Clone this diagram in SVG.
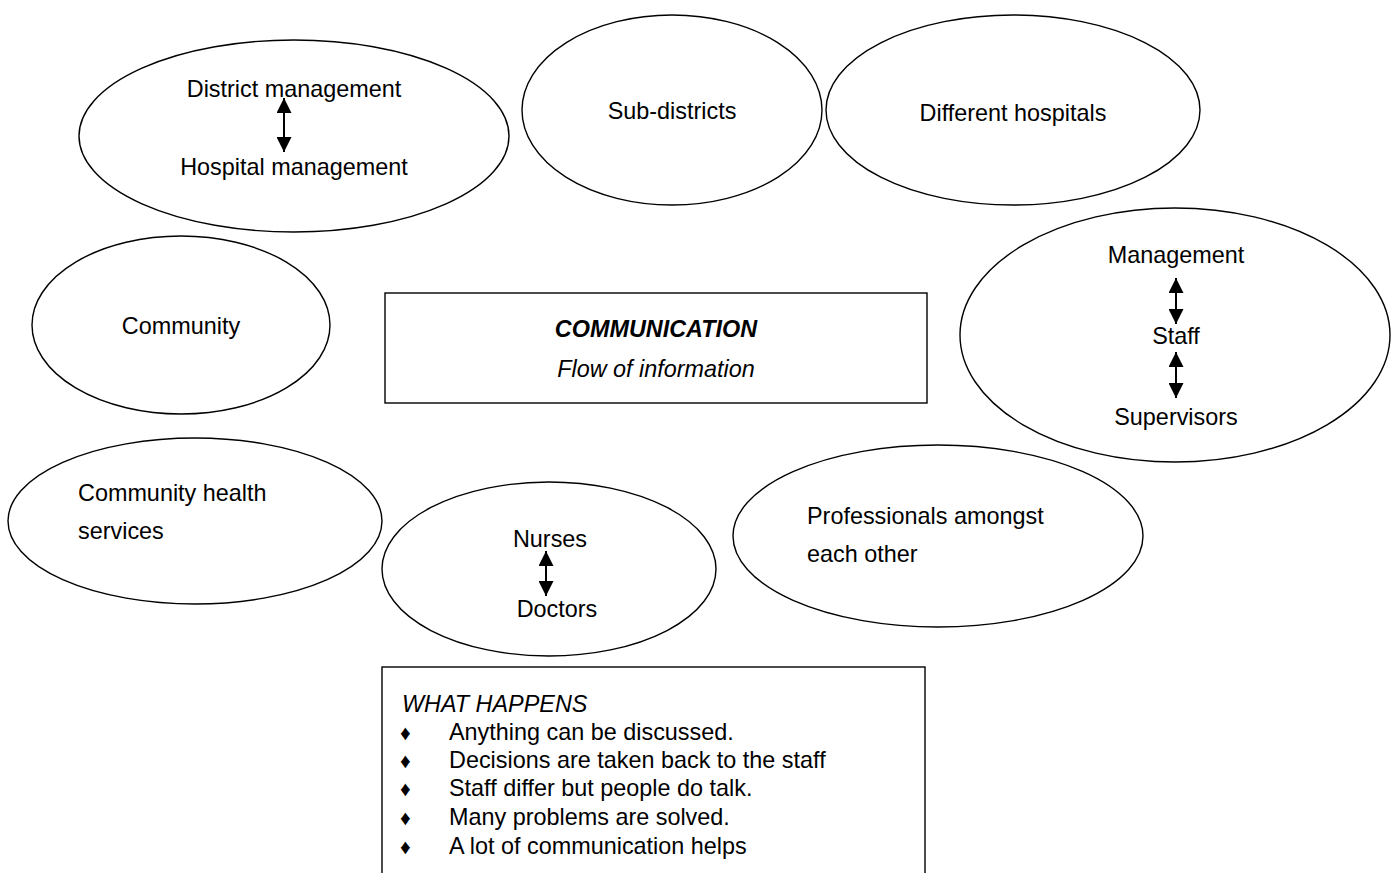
<svg xmlns="http://www.w3.org/2000/svg" width="1398" height="873" viewBox="0 0 1398 873">
<style>
.sh{fill:#fff;stroke:#000;stroke-width:1.4}
.t{font-family:"Liberation Sans",Arial,sans-serif;font-size:23.4px;fill:#000}
.c{text-anchor:middle}
.i{font-style:italic}
.b{font-weight:bold}
.bl{font-size:21px}
.ar{stroke:#000;stroke-width:2;fill:none;marker-start:url(#ah);marker-end:url(#ah)}
</style>
<defs>
<marker id="ah" viewBox="0 0 10 10" refX="10" refY="5" markerWidth="7.5" markerHeight="7.5" markerUnits="strokeWidth" orient="auto-start-reverse">
<path d="M0,0 L10,5 L0,10 Z" fill="#000"/>
</marker>
</defs>
<rect width="1398" height="873" fill="#fff"/>
<g id="district">
<ellipse class="sh" cx="294" cy="136" rx="215" ry="96"/>
<text class="t c" x="294" y="97">District management</text>
<text class="t c" x="294" y="175">Hospital management</text>
</g>
<g id="subdistricts">
<ellipse class="sh" cx="672" cy="110" rx="150" ry="95"/>
<text class="t c" x="672" y="119">Sub-districts</text>
</g>
<g id="hospitals">
<ellipse class="sh" cx="1013" cy="110" rx="187" ry="95"/>
<text class="t c" x="1013" y="121">Different hospitals</text>
</g>
<g id="community">
<ellipse class="sh" cx="181" cy="325" rx="149" ry="89"/>
<text class="t c" x="181" y="334">Community</text>
</g>
<g id="management">
<ellipse class="sh" cx="1175" cy="335" rx="215" ry="127"/>
<text class="t c" x="1176" y="263">Management</text>
<text class="t c" x="1176" y="344">Staff</text>
<text class="t c" x="1176" y="425">Supervisors</text>
</g>
<g id="chs">
<ellipse class="sh" cx="195" cy="521" rx="187" ry="83"/>
<text class="t" x="78" y="501">Community health</text>
<text class="t" x="78" y="539">services</text>
</g>
<g id="nurses">
<ellipse class="sh" cx="549" cy="569" rx="167" ry="87"/>
<text class="t c" x="550" y="547">Nurses</text>
<text class="t c" x="557" y="617">Doctors</text>
</g>
<g id="professionals">
<ellipse class="sh" cx="938" cy="536" rx="205" ry="91"/>
<text class="t" x="807" y="524">Professionals amongst</text>
<text class="t" x="807" y="562">each other</text>
</g>
<g id="communication">
<rect class="sh" x="385" y="293" width="542" height="110"/>
<text class="t c i b" x="656" y="337">COMMUNICATION</text>
<text class="t c i" x="656" y="377">Flow of information</text>
</g>
<g id="whathappens">
<rect class="sh" x="382" y="667" width="543" height="215"/>
<text class="t i" x="402" y="712">WHAT HAPPENS</text>
<g class="t">
<text class="bl" x="400" y="740">♦</text><text x="449" y="740">Anything can be discussed.</text>
<text class="bl" x="400" y="768">♦</text><text x="449" y="768">Decisions are taken back to the staff</text>
<text class="bl" x="400" y="796">♦</text><text x="449" y="796">Staff differ but people do talk.</text>
<text class="bl" x="400" y="825">♦</text><text x="449" y="825">Many problems are solved.</text>
<text class="bl" x="400" y="854">♦</text><text x="449" y="854">A lot of communication helps</text>
</g>
</g>
<g id="connectors">
<line class="ar" x1="284" y1="98" x2="284" y2="152"/>
<line class="ar" x1="1176" y1="278" x2="1176" y2="324"/>
<line class="ar" x1="1176" y1="352" x2="1176" y2="398"/>
<line class="ar" x1="546" y1="551" x2="546" y2="596"/>
</g>
</svg>
